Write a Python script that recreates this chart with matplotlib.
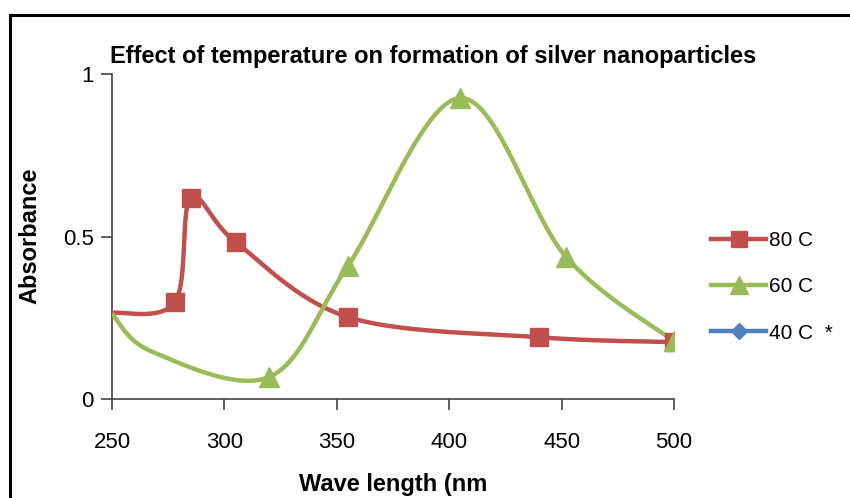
import numpy as np
import matplotlib
matplotlib.use("Agg")
import matplotlib.pyplot as plt
from matplotlib.lines import Line2D

plt.rcParams['font.family'] = ['Liberation Sans', 'DejaVu Sans']

title = "Effect of temperature on formation of silver nanoparticles"
xlabel = "Wave length (nm"
ylabel = "Absorbance"

x80 = [250, 278, 285, 305, 355, 440, 500]
y80 = [0.265, 0.298, 0.618, 0.483, 0.252, 0.19, 0.175]
m80 = [False, True, True, True, True, True, True]

x60 = [250, 268, 320, 355, 405, 452, 500]
y60 = [0.262, 0.145, 0.068, 0.41, 0.926, 0.437, 0.178]
m60 = [False, False, True, True, True, True, True]

x40 = []
y40 = []

xticks = [250, 300, 350, 400, 450, 500]
yticks = [0, 0.5, 1]
yticklabels = ["0", "0.5", "1"]


def smooth(xs, ys, n=40):
    # Excel-style smoothed line (Bezier with 1/6 control points)
    P = np.column_stack([np.asarray(xs, float), np.asarray(ys, float)])
    out = []
    for i in range(len(P) - 1):
        p0 = P[i - 1] if i > 0 else P[i]
        p1 = P[i]; p2 = P[i + 1]
        p3 = P[i + 2] if i + 2 < len(P) else P[i + 1]
        c1 = p1 + (p2 - p0) / 6.0
        c2 = p2 - (p3 - p1) / 6.0
        t = np.linspace(0, 1, n)[:, None]
        seg = ((1 - t) ** 3) * p1 + 3 * ((1 - t) ** 2) * t * c1 + 3 * (1 - t) * t ** 2 * c2 + t ** 3 * p2
        out.append(seg if i == 0 else seg[1:])
    s = np.vstack(out)
    return s[:, 0], s[:, 1]


fig = plt.figure(figsize=(8.5, 4.98), dpi=100)
ax = fig.add_axes([112 / 850, 1 - 399 / 498, (674 - 112) / 850, (399 - 74) / 498])

red = "#C0504D"
green = "#9BBB59"
blue = "#4F81BD"

sx, sy = smooth(x80, y80)
ax.plot(sx, sy, color=red, lw=3.2, solid_capstyle='butt', zorder=3)
ax.plot([a for a, m in zip(x80, m80) if m], [b for b, m in zip(y80, m80) if m],
        ls='none', marker='s', ms=13, color=red, zorder=4)

sx, sy = smooth(x60, y60)
ax.plot(sx, sy, color=green, lw=3.2, solid_capstyle='butt', zorder=3)
ax.plot([a for a, m in zip(x60, m60) if m], [b for b, m in zip(y60, m60) if m],
        ls='none', marker='^', ms=14, color=green, zorder=5)

ax.plot(x40, y40, color=blue, lw=3.2, marker='D', ms=9)

fs = 16

ax.set_xlim(250, 500)
ax.set_ylim(0, 1)
ax.set_xticks(xticks)
ax.set_xticklabels([str(v) for v in xticks])
ax.set_yticks(yticks)
ax.set_yticklabels(yticklabels)
for s in ['top', 'right']:
    ax.spines[s].set_visible(False)
for s in ['left', 'bottom']:
    ax.spines[s].set_color('#444444')
    ax.spines[s].set_linewidth(1.2)
ax.tick_params(direction='out', length=8, width=1.2, color='#444444',
               labelsize=fs)
ax.tick_params(axis='x', pad=16)
ax.tick_params(axis='y', pad=5)

fig.text(433 / 850, 1 - 56 / 498, title, ha='center', va='center',
         fontsize=17, fontweight='bold')
fig.text(393 / 850, 1 - 484 / 498, xlabel, ha='center', va='center',
         fontsize=fs + 1, fontweight='bold')
fig.text(30 / 850, 1 - 236 / 498, ylabel, ha='center', va='center',
         fontsize=fs + 1, fontweight='bold', rotation=90)

handles = [
    Line2D([], [], color=red, lw=3.2, marker='s', ms=12),
    Line2D([], [], color=green, lw=3.2, marker='^', ms=13),
    Line2D([], [], color=blue, lw=3.2, marker='D', ms=8),
]
labels = ["80 C", "60 C", "40 C  *"]
fig.legend(handles, labels, loc='center left', bbox_to_anchor=(701 / 850, 1 - 287 / 498),
           frameon=False, fontsize=fs - 1, handlelength=2.6, handletextpad=0.15,
           labelspacing=1.3, borderpad=0)

# outer chart border (top and left visible)
fig.add_artist(Line2D([10 / 850, 10 / 850], [0, 1 - 15 / 498], transform=fig.transFigure,
                      color='black', lw=2.2))
fig.add_artist(Line2D([10 / 850, 1], [1 - 15 / 498, 1 - 15 / 498], transform=fig.transFigure,
                      color='black', lw=2.2))

fig.savefig("out.png", dpi=100)
